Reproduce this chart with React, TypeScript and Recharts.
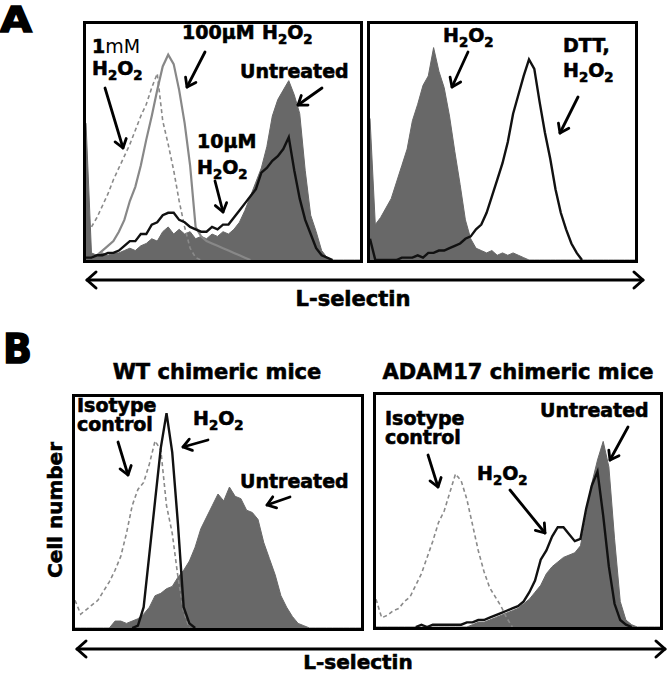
import React from 'react';
import { ComposedChart, Area, Line, XAxis, YAxis } from 'recharts';

// fluorescence channel (relative L-selectin intensity, 0-100)
const channel = [
  0, 2, 4, 6, 8, 10, 12, 14, 16, 18,
  20, 22, 24, 26, 28, 30, 32, 34, 36, 38,
  40, 42, 44, 46, 48, 50, 52, 54, 56, 58,
  60, 62, 64, 66, 68, 70, 72, 74, 76, 78,
  80, 82, 84, 86, 88, 90, 92, 94, 96, 98,
  100,
];

const N = null;

// Panel A, left: H2O2 dose series
const a1Untreated = [
  58, 3, 2, 3, 2, 3, 3, 4, 5, 4,
  6, 7, 9, 8, 12, 14, 11, 13, 11, 12,
  9, 10, 9, 11, 10, 12, 11, 13, 16, 21,
  27, 33, 39, 48, 61, 68, 72, 76, 70, 62,
  38, 19, 12, 4, 1, 0, 0, 0, 0, 0,
  0,
];
const a1OneMilliMolar = [
  N, 14, 18, 23, 28, 34, 39, 44, 49, 55,
  61, 66, 73, 79, 59, 49, 38, 25, 14, 5,
  1, 0, N, N, N, N, N, N, N, N,
  N, N, N, N, N, N, N, N, N, N,
  N, N, N, N, N, N, N, N, N, N,
  N,
];
const a1HundredMicroMolar = [
  N, 1, 2, 4, 6, 8, 12, 17, 25, 31,
  40, 51, 61, 72, 82, 87, 83, 72, 58, 40,
  14, 10, 8, 7, 6, 5, 4, 3, 2, 1,
  0, N, N, N, N, N, N, N, N, N,
  N, N, N, N, N, N, N, N, N, N,
  N,
];
const a1TenMicroMolar = [
  1, 1, 2, 2, 3, 3, 4, 6, 8, 8,
  11, 11, 15, 16, 19, 20, 20, 17, 16, 14,
  13, 12, 12, 14, 13, 15, 15, 18, 21, 24,
  27, 30, 37, 39, 42, 44, 47, 52, 38, 26,
  17, 11, 5, 2, 1, 0, N, N, N, N,
  N,
];

// Panel A, right: DTT pre-treatment
const a2H2O2 = [
  60, 15, 18, 22, 26, 33, 40, 47, 59, 66,
  74, 78, 90, 80, 73, 61, 46, 32, 17, 9,
  5, 4, 3, 4, 2, 3, 2, 3, 2, 1,
  0, 0, 0, 0, 0, 0, 0, 0, 0, 0,
  0, 0, 0, 0, 0, 0, 0, 0, 0, 0,
  0,
];
const a2DttH2O2 = [
  9, 0, 0, 0, 0, 0, 1, 1, 1, 2,
  1, 3, 3, 4, 4, 5, 6, 7, 9, 10,
  13, 15, 20, 27, 34, 41, 50, 62, 70, 78,
  85, 81, 67, 54, 43, 30, 20, 13, 7, 3,
  0, N, N, N, N, N, N, N, N, N,
  N,
];

// Panel B, left: WT chimeric mice
const b1Untreated = [
  0, 0, 0, 0, 0, 0, 0, 3, 3, 2,
  3, 4, 6, 9, 14, 15, 17, 18, 22, 25,
  29, 35, 43, 48, 53, 58, 55, 61, 57, 56,
  51, 50, 47, 37, 30, 23, 14, 9, 5, 2,
  1, 0, 0, 0, 0, 0, 0, 0, 0, 0,
  0,
];
const b1H2O2 = [
  N, N, N, N, N, N, N, N, N, N,
  0, 1, 9, 32, 55, 78, 93, 76, 45, 9,
  2, 0, N, N, N, N, N, N, N, N,
  N, N, N, N, N, N, N, N, N, N,
  N, N, N, N, N, N, N, N, N, N,
  N,
];
const b1Isotype = [
  12, 6, 8, 10, 12, 16, 20, 25, 31, 41,
  53, 60, 63, 71, 81, 77, 53, 41, 22, 7,
  0, N, N, N, N, N, N, N, N, N,
  N, N, N, N, N, N, N, N, N, N,
  N, N, N, N, N, N, N, N, N, N,
  N,
];

// Panel B, right: ADAM17 chimeric mice
const b2Untreated = [
  0, 0, 0, 0, 0, 0, 0, 0, 0, 0,
  0, 0, 0, 0, 0, 0, 0, 1, 2, 2,
  3, 4, 5, 6, 7, 8, 10, 12, 15, 18,
  23, 26, 28, 30, 31, 32, 35, 48, 62, 72,
  80, 69, 38, 11, 3, 1, 0, 0, 0, 0,
  0,
];
const b2H2O2 = [
  N, N, N, N, N, N, N, 0, 1, 0,
  1, 1, 1, 1, 1, 1, 2, 2, 3, 3,
  4, 5, 6, 7, 8, 9, 11, 15, 20, 29,
  33, 39, 43, 43, 40, 37, 38, 51, 61, 67,
  48, 26, 10, 3, 1, 0, N, N, N, N,
  N,
];
const b2Isotype = [
  12, 4, 5, 7, 8, 11, 13, 18, 23, 30,
  37, 45, 50, 58, 66, 63, 55, 44, 33, 24,
  17, 13, 9, 4, 0, N, N, N, N, N,
  N, N, N, N, N, N, N, N, N, N,
  N, N, N, N, N, N, N, N, N, N,
  N,
];

type Kind = 'fill' | 'black' | 'grey' | 'dashed';
type Series = { key: string; values: (number | null)[]; kind: Kind };

const FILL = '#686868';
const FONT = '"DejaVu Sans", "Liberation Sans", Arial, sans-serif';
const HEAVY = { stroke: '#000', strokeWidth: 0.6 };

function Histogram(props: { left: number; top: number; width: number; height: number; series: Series[] }) {
  const { left, top, width, height, series } = props;
  const b = 3;
  const rows = channel.map((x, i) => {
    const r: Record<string, number | null> = { x };
    series.forEach((s) => {
      r[s.key] = s.values[i];
    });
    return r;
  });
  return (
    <div
      style={{
        position: 'absolute',
        left,
        top,
        width,
        height,
        border: `${b}px solid #000`,
        boxSizing: 'border-box',
        background: '#fff',
      }}
    >
      <ComposedChart width={width - 2 * b} height={height - 2 * b} data={rows} margin={{ top: 0, right: 0, bottom: 0, left: 0 }}>
        <XAxis dataKey="x" type="number" domain={[0, 100]} hide />
        <YAxis type="number" domain={[0, 100]} hide />
        {series.map((s) => {
          if (s.kind === 'fill') {
            return (
              <Area
                key={s.key}
                type="linear"
                dataKey={s.key}
                stroke={FILL}
                strokeWidth={1}
                fill={FILL}
                fillOpacity={1}
                dot={false}
                activeDot={false}
                isAnimationActive={false}
              />
            );
          }
          const stroke = s.kind === 'black' ? '#111' : s.kind === 'grey' ? '#888' : '#8a8a8a';
          return (
            <Line
              key={s.key}
              type="linear"
              dataKey={s.key}
              stroke={stroke}
              strokeWidth={s.kind === 'dashed' ? 1.6 : s.kind === 'black' ? 2.4 : 2.2}
              strokeDasharray={s.kind === 'dashed' ? '4 3' : undefined}
              dot={false}
              activeDot={false}
              isAnimationActive={false}
            />
          );
        })}
      </ComposedChart>
    </div>
  );
}

function Arrow({ x1, y1, x2, y2, w = 2.8, h = 10 }: { x1: number; y1: number; x2: number; y2: number; w?: number; h?: number }) {
  const a = Math.atan2(y2 - y1, x2 - x1);
  const s = 0.62;
  const p1 = `${x2 - h * Math.cos(a - s)},${y2 - h * Math.sin(a - s)}`;
  const p2 = `${x2 - h * Math.cos(a + s)},${y2 - h * Math.sin(a + s)}`;
  return (
    <g stroke="#000" strokeWidth={w} fill="none" strokeLinecap="round" strokeLinejoin="round">
      <line x1={x1} y1={y1} x2={x2} y2={y2} />
      <polyline points={`${p1} ${x2},${y2} ${p2}`} />
    </g>
  );
}

function AxisArrow({ x1, x2, y }: { x1: number; x2: number; y: number }) {
  return (
    <g stroke="#000" strokeWidth={3} fill="none" strokeLinecap="round" strokeLinejoin="round">
      <line x1={x1} y1={y} x2={x2} y2={y} />
      <polyline points={`${x1 + 9},${y - 8} ${x1},${y} ${x1 + 9},${y + 8}`} />
      <polyline points={`${x2 - 9},${y - 8} ${x2},${y} ${x2 - 9},${y + 8}`} />
    </g>
  );
}

function H2O2({ x, y, size = 19 }: { x: number; y: number; size?: number }) {
  const sub = size * 0.7;
  const d = size * 0.25;
  return (
    <text x={x} y={y} fontSize={size} fontWeight="bold" fontFamily={FONT} fill="#000" {...HEAVY}>
      H
      <tspan fontSize={sub} dy={d}>2</tspan>
      <tspan dy={-d}>O</tspan>
      <tspan fontSize={sub} dy={d}>2</tspan>
    </text>
  );
}

function Label({ x, y, text, size = 19, anchor = 'start' }: { x: number; y: number; text: string; size?: number; anchor?: 'start' | 'middle' | 'end' }) {
  return (
    <text x={x} y={y} fontSize={size} fontWeight="bold" fontFamily={FONT} fill="#000" textAnchor={anchor} {...HEAVY}>
      {text}
    </text>
  );
}

export default function App() {
  return (
    <div style={{ position: 'absolute', left: 0, top: 0, width: 668, height: 675, background: '#fff', overflow: 'hidden' }}>
      <Histogram
        left={83}
        top={21}
        width={280}
        height={242}
        series={[
          { key: 'untreated', values: a1Untreated, kind: 'fill' },
          { key: 'mM1', values: a1OneMilliMolar, kind: 'dashed' },
          { key: 'uM100', values: a1HundredMicroMolar, kind: 'grey' },
          { key: 'uM10', values: a1TenMicroMolar, kind: 'black' },
        ]}
      />
      <Histogram
        left={367}
        top={21}
        width={271}
        height={242}
        series={[
          { key: 'h2o2', values: a2H2O2, kind: 'fill' },
          { key: 'dtt', values: a2DttH2O2, kind: 'black' },
        ]}
      />
      <Histogram
        left={72}
        top={394}
        width={292}
        height={237}
        series={[
          { key: 'untreated', values: b1Untreated, kind: 'fill' },
          { key: 'isotype', values: b1Isotype, kind: 'dashed' },
          { key: 'h2o2', values: b1H2O2, kind: 'black' },
        ]}
      />
      <Histogram
        left={373}
        top={392}
        width={290}
        height={238}
        series={[
          { key: 'untreated', values: b2Untreated, kind: 'fill' },
          { key: 'isotype', values: b2Isotype, kind: 'dashed' },
          { key: 'h2o2', values: b2H2O2, kind: 'black' },
        ]}
      />
      <svg width={668} height={675} style={{ position: 'absolute', left: 0, top: 0, pointerEvents: 'none' }}>
        {/* panel letters */}
        <text x={0} y={32} fontSize={36} fontWeight="900" fontFamily={FONT} textLength={32} lengthAdjust="spacingAndGlyphs" stroke="#000" strokeWidth={1.5}>A</text>
        <text x={3} y={363} fontSize={40} fontWeight="900" fontFamily={FONT} textLength={29} lengthAdjust="spacingAndGlyphs" stroke="#000" strokeWidth={1.5}>B</text>

        {/* A left annotations */}
        <text x={92} y={53} fontSize={19} fontFamily={FONT} fill="#000">
          <tspan fontWeight="bold" stroke="#000" strokeWidth={0.6}>1</tspan>
          <tspan>mM</tspan>
        </text>
        <H2O2 x={92} y={75} />
        <Arrow x1={105} y1={88} x2={123} y2={148} />
        <Label x={182} y={39} text="100μM" />
        <H2O2 x={262} y={39} />
        <Arrow x1={205} y1={52} x2={187} y2={87} />
        <Label x={240} y={78} text="Untreated" />
        <Arrow x1={322} y1={88} x2={298} y2={105} />
        <Label x={197} y={148} text="10μM" />
        <H2O2 x={197} y={174} />
        <Arrow x1={215} y1={181} x2={223} y2={212} />

        {/* A right annotations */}
        <H2O2 x={443} y={42} />
        <Arrow x1={468} y1={52} x2={452} y2={87} />
        <Label x={563} y={52} text="DTT," />
        <H2O2 x={563} y={77} />
        <Arrow x1={578} y1={97} x2={560} y2={133} />

        <AxisArrow x1={87} x2={643} y={280} />
        <Label x={353} y={306} text="L-selectin" size={21} anchor="middle" />

        {/* B titles */}
        <Label x={217} y={379} text="WT chimeric mice" size={21} anchor="middle" />
        <Label x={518} y={379} text="ADAM17 chimeric mice" size={21} anchor="middle" />

        {/* B left annotations */}
        <Label x={77} y={412} text="Isotype" size={19} />
        <Label x={77} y={431} text="control" size={19} />
        <Arrow x1={118} y1={442} x2={128} y2={475} />
        <H2O2 x={193} y={425} />
        <Arrow x1={208} y1={440} x2={183} y2={447} />
        <Label x={240} y={488} text="Untreated" />
        <Arrow x1={290} y1={497} x2={267} y2={505} />

        {/* B right annotations */}
        <Label x={385} y={425} text="Isotype" size={19} />
        <Label x={385} y={444} text="control" size={19} />
        <Arrow x1={428} y1={455} x2={438} y2={487} />
        <H2O2 x={477} y={480} />
        <Arrow x1={510} y1={490} x2={545} y2={533} />
        <Label x={540} y={417} text="Untreated" />
        <Arrow x1={628} y1={427} x2={610} y2={460} />

        <text x={62} y={510} fontSize={20} fontWeight="bold" fontFamily={FONT} textAnchor="middle" transform="rotate(-90 62 510)" {...HEAVY}>
          Cell number
        </text>

        <AxisArrow x1={77} x2={665} y={649} />
        <Label x={358} y={669} text="L-selectin" size={20} anchor="middle" />
      </svg>
    </div>
  );
}
